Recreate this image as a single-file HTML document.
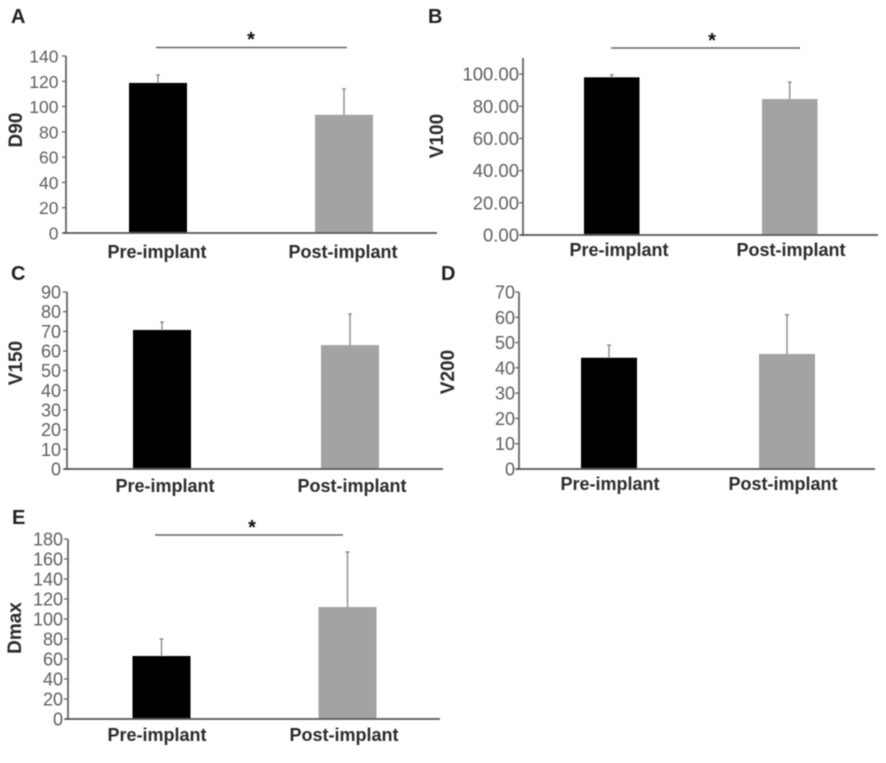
<!DOCTYPE html>
<html>
<head>
<meta charset="utf-8">
<title>Dosimetric parameters pre- and post-implant</title>
<style>
html,body{margin:0;padding:0;background:#fff;}
svg{display:block;font-family:"Liberation Sans",sans-serif;}
</style>
</head>
<body>
<svg id="figure" width="886" height="763" viewBox="0 0 886 763" xmlns="http://www.w3.org/2000/svg">
<defs><filter id="soft" x="-2%" y="-2%" width="104%" height="104%"><feGaussianBlur stdDeviation="0.6"/></filter></defs>
<rect x="0" y="0" width="886" height="763" fill="#fff"/>
<g id="root" filter="url(#soft)"></g>
</svg>
<script>
const categories = ['Pre-implant', 'Post-implant'];

const d90Means = [118.7, 93.5];
const d90ErrorTops = [125, 114];
const d90Ticks = ['0', '20', '40', '60', '80', '100', '120', '140'];

const v100Means = [98, 84.5];
const v100ErrorTops = [99.5, 95];
const v100Ticks = ['0.00', '20.00', '40.00', '60.00', '80.00', '100.00'];

const v150Means = [70.7, 63];
const v150ErrorTops = [74.7, 78.8];
const v150Ticks = ['0', '10', '20', '30', '40', '50', '60', '70', '80', '90'];

const v200Means = [44, 45.5];
const v200ErrorTops = [49, 61];
const v200Ticks = ['0', '10', '20', '30', '40', '50', '60', '70'];

const dmaxMeans = [63, 112];
const dmaxErrorTops = [80, 167];
const dmaxTicks = ['0', '20', '40', '60', '80', '100', '120', '140', '160', '180'];

const panels = [
  {key:'d90', letter:'A', title:'D90', means:d90Means, tops:d90ErrorTops, ticks:d90Ticks, axisMax:140,
   box:{axisX:66,top:56,zero:233,right:437,bar0:129,barStep:186,barW:58,label0:157,labelStep:186,labelY:258,tickGap:7.5,tickFont:17.5,
        titleX:22,titleY:130,letterX:11,letterY:23,sig:[156,347,47.5,251,46]}},
  {key:'v100', letter:'B', title:'V100', means:v100Means, tops:v100ErrorTops, ticks:v100Ticks, axisMax:110,
   box:{axisX:523,top:58,zero:235,right:878,bar0:584,barStep:178,barW:55.5,label0:619,labelStep:172,labelY:256,tickGap:4,tickFont:18.5,
        titleX:443,titleY:136,letterX:428,letterY:23,sig:[611,800,48,712,47]}},
  {key:'v150', letter:'C', title:'V150', means:v150Means, tops:v150ErrorTops, ticks:v150Ticks, axisMax:90,
   box:{axisX:67,top:292,zero:469,right:443,bar0:133,barStep:188,barW:58,label0:165,labelStep:187,labelY:492,tickGap:6,tickFont:18,
        titleX:22,titleY:363,letterX:11,letterY:280,sig:null}},
  {key:'v200', letter:'D', title:'V200', means:v200Means, tops:v200ErrorTops, ticks:v200Ticks, axisMax:70,
   box:{axisX:519,top:292,zero:469,right:875,bar0:581,barStep:178,barW:56,label0:610,labelStep:173,labelY:490,tickGap:4,tickFont:18,
        titleX:454,titleY:372,letterX:441,letterY:280,sig:null}},
  {key:'dmax', letter:'E', title:'Dmax', means:dmaxMeans, tops:dmaxErrorTops, ticks:dmaxTicks, axisMax:180,
   box:{axisX:68,top:539,zero:719,right:440,bar0:132.5,barStep:186,barW:58,label0:157,labelStep:187,labelY:741,tickGap:5,tickFont:18,
        titleX:21,titleY:628,letterX:12,letterY:524,sig:[155,343,535,252,534]}}
];

const SVGNS = 'http://www.w3.org/2000/svg';
const root = document.getElementById('root');

function make(parent, tag, attrs, text) {
  const node = document.createElementNS(SVGNS, tag);
  for (const k in attrs) node.setAttribute(k, attrs[k]);
  if (text !== undefined) node.textContent = text;
  parent.appendChild(node);
  return node;
}

panels.forEach(function (p) {
  const b = p.box;
  const y = function (v) { return b.zero - (v / p.axisMax) * (b.zero - b.top); };
  const tickStep = p.axisMax === 110 ? 20 : p.axisMax / (p.ticks.length - 1);
  const barX = function (i) { return b.bar0 + i * b.barStep; };

  const g = make(root, 'g', {});
  
  

  const letter = make(g, 'text', {x:b.letterX, y:b.letterY, 'font-size':20, 'font-weight':'bold', fill:'#222'}, p.letter);
  
  

  const title = make(g, 'text', {x:b.titleX, y:b.titleY, 'font-size':19, 'font-weight':'bold', fill:'#2b2b2b', 'text-anchor':'middle',
    transform:'rotate(-90 ' + b.titleX + ' ' + b.titleY + ')'}, p.title);
  
  

  p.means.forEach(function (m, i) {
    const bx = barX(i);
    const cx = bx + b.barW / 2;
    const err = make(g, 'line', {x1:cx, x2:cx, y1:y(m) + 2, y2:y(p.tops[i]), stroke:'#8c8c8c', 'stroke-width':1.4});
    
    
    const cap = make(g, 'line', {x1:cx - 2, x2:cx + 2, y1:y(p.tops[i]), y2:y(p.tops[i]), stroke:'#8c8c8c', 'stroke-width':1.4});
    
    
    const bar = make(g, 'rect', {x:bx, y:y(m), width:b.barW, height:b.zero - y(m), fill:i === 0 ? '#000' : '#a3a3a3'});
    
    
    const lab = make(g, 'text', {x:b.label0 + i * b.labelStep, y:b.labelY, 'font-size':18, 'font-weight':'bold', fill:'#2b2b2b', 'text-anchor':'middle'}, categories[i]);
    
    
  });

  p.ticks.forEach(function (t, i) {
    const ty = y(i * tickStep);
    const tick = make(g, 'line', {x1:b.axisX - 4, x2:b.axisX, y1:ty, y2:ty, stroke:'#666', 'stroke-width':1.3});
    
    
    const lab = make(g, 'text', {x:b.axisX - b.tickGap, y:ty + 6.5, 'font-size':b.tickFont, fill:'#606060', 'text-anchor':'end'}, t);
    
    
  });

  const yAxis = make(g, 'line', {x1:b.axisX, x2:b.axisX, y1:b.top, y2:b.zero + 1, stroke:'#666', 'stroke-width':1.8});
  
  
  const xAxis = make(g, 'line', {x1:b.axisX - 3, x2:b.right, y1:b.zero, y2:b.zero, stroke:'#555', 'stroke-width':1.8});
  
  

  if (b.sig) {
    const sl = make(g, 'line', {x1:b.sig[0], x2:b.sig[1], y1:b.sig[2], y2:b.sig[2], stroke:'#666', 'stroke-width':1.4});
    
    
    const star = make(g, 'text', {x:b.sig[3], y:b.sig[4], 'font-size':20, 'font-weight':'bold', fill:'#111', 'text-anchor':'middle'}, '*');
    
    
  }
});
</script>
</body>
</html>
